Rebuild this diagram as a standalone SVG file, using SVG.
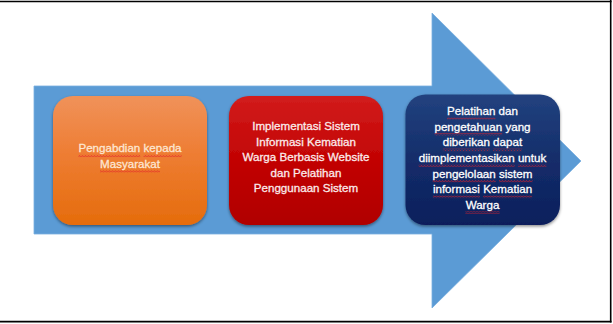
<svg xmlns="http://www.w3.org/2000/svg" width="613" height="324" viewBox="0 0 613 324">
<style>
.t{font-family:"Liberation Sans",Arial,sans-serif;font-size:11.6px;text-anchor:middle;stroke-width:0.3px}
.frame{stroke:#000;fill:none}
.sq{fill:url(#wavy)}
</style>
<defs>
<linearGradient id="gO" x1="0" y1="0" x2="0" y2="1">
<stop offset="0" stop-color="#f0925a"/>
<stop offset="0.45" stop-color="#ee7d33"/>
<stop offset="1" stop-color="#e56c0c"/>
</linearGradient>
<linearGradient id="gR" x1="0" y1="0" x2="0" y2="1">
<stop offset="0" stop-color="#d21c1c"/>
<stop offset="0.5" stop-color="#c20303"/>
<stop offset="1" stop-color="#b00000"/>
</linearGradient>
<linearGradient id="gN" x1="0" y1="0" x2="0" y2="1">
<stop offset="0" stop-color="#22427f"/>
<stop offset="0.5" stop-color="#142d6a"/>
<stop offset="1" stop-color="#0b1f5c"/>
</linearGradient>
<pattern id="wavy" patternUnits="userSpaceOnUse" width="3" height="2.5">
<path d="M0,2 L1.5,0.5 L3,2" fill="none" stroke="#e2202a" stroke-width="0.8"/>
</pattern>
<filter id="sh" x="-10%" y="-10%" width="120%" height="125%">
<feDropShadow dx="0" dy="1.5" stdDeviation="1.5" flood-color="#000" flood-opacity="0.45"/>
</filter>
</defs>
<rect width="613" height="324" fill="#fff"/>
<g id="frame">
<line class="frame" x1="0" y1="1.5" x2="611.5" y2="1.5" stroke-width="1.6"/>
<line class="frame" x1="610.7" y1="0" x2="610.7" y2="322.5" stroke-width="1.6"/>
<line class="frame" x1="0" y1="321.6" x2="611.5" y2="321.6" stroke-width="1.8"/>
</g>
<g id="arrow">
<path d="M34,86 L432,86 L432,13 L581,161 L432,308 L432,234 L34,234 Z" fill="#5b9bd5" stroke="#78aee0" stroke-width="0.8"/>
</g>
<g id="node1">
<rect x="53" y="96" width="154" height="129" rx="20" fill="url(#gO)" filter="url(#sh)"/>
<text class="t" fill="#fde6d2" stroke="#fde6d2"><tspan x="130" y="152.3">Pengabdian kepada</tspan><tspan x="130" y="168">Masyarakat</tspan></text>
<rect class="sq" x="78.4" y="154.6" width="61.9" height="2.5"/>
<rect class="sq" x="143.5" y="154.6" width="38.1" height="2.5"/>
<rect class="sq" x="100" y="170.3" width="60" height="2.5"/>
</g>
<g id="node2">
<rect x="229" y="96" width="154" height="129" rx="20" fill="url(#gR)" filter="url(#sh)"/>
<text class="t" fill="#fbeaea" stroke="#fbeaea"><tspan x="306" y="130">Implementasi Sistem</tspan><tspan x="306" y="145.5">Informasi Kematian</tspan><tspan x="306" y="161">Warga Berbasis Website</tspan><tspan x="306" y="176.5">dan Pelatihan</tspan><tspan x="306" y="192">Penggunaan Sistem</tspan></text>
</g>
<g id="node3">
<rect x="405.5" y="94.5" width="154.5" height="130.5" rx="20" fill="url(#gN)" filter="url(#sh)"/>
<text class="t" fill="#ffffff" stroke="#ffffff"><tspan x="482.5" y="115">Pelatihan dan</tspan><tspan x="482.5" y="130.7">pengetahuan yang</tspan><tspan x="482.5" y="146.3">diberikan dapat</tspan><tspan x="482.5" y="162">diimplementasikan untuk</tspan><tspan x="482.5" y="177.6">pengelolaan sistem</tspan><tspan x="482.5" y="193.3">informasi Kematian</tspan><tspan x="482.5" y="209">Warga</tspan></text>
<rect class="sq" x="447" y="117.3" width="48.4" height="2.5"/>
<rect class="sq" x="434.5" y="133" width="67.7" height="2.5"/>
<rect class="sq" x="442.9" y="148.6" width="47" height="2.5"/>
<rect class="sq" x="493.1" y="148.6" width="29" height="2.5"/>
<rect class="sq" x="418.7" y="164.3" width="96" height="2.5"/>
<rect class="sq" x="518" y="164.3" width="28.4" height="2.5"/>
<rect class="sq" x="432.6" y="179.9" width="63.2" height="2.5"/>
<rect class="sq" x="499" y="179.9" width="33.5" height="2.5"/>
<rect class="sq" x="432.9" y="195.6" width="47" height="2.5"/>
<rect class="sq" x="483.1" y="195.6" width="49" height="2.5"/>
<rect class="sq" x="465.4" y="211.3" width="34.2" height="2.5"/>
</g>
<g id="connectors"/>
</svg>
